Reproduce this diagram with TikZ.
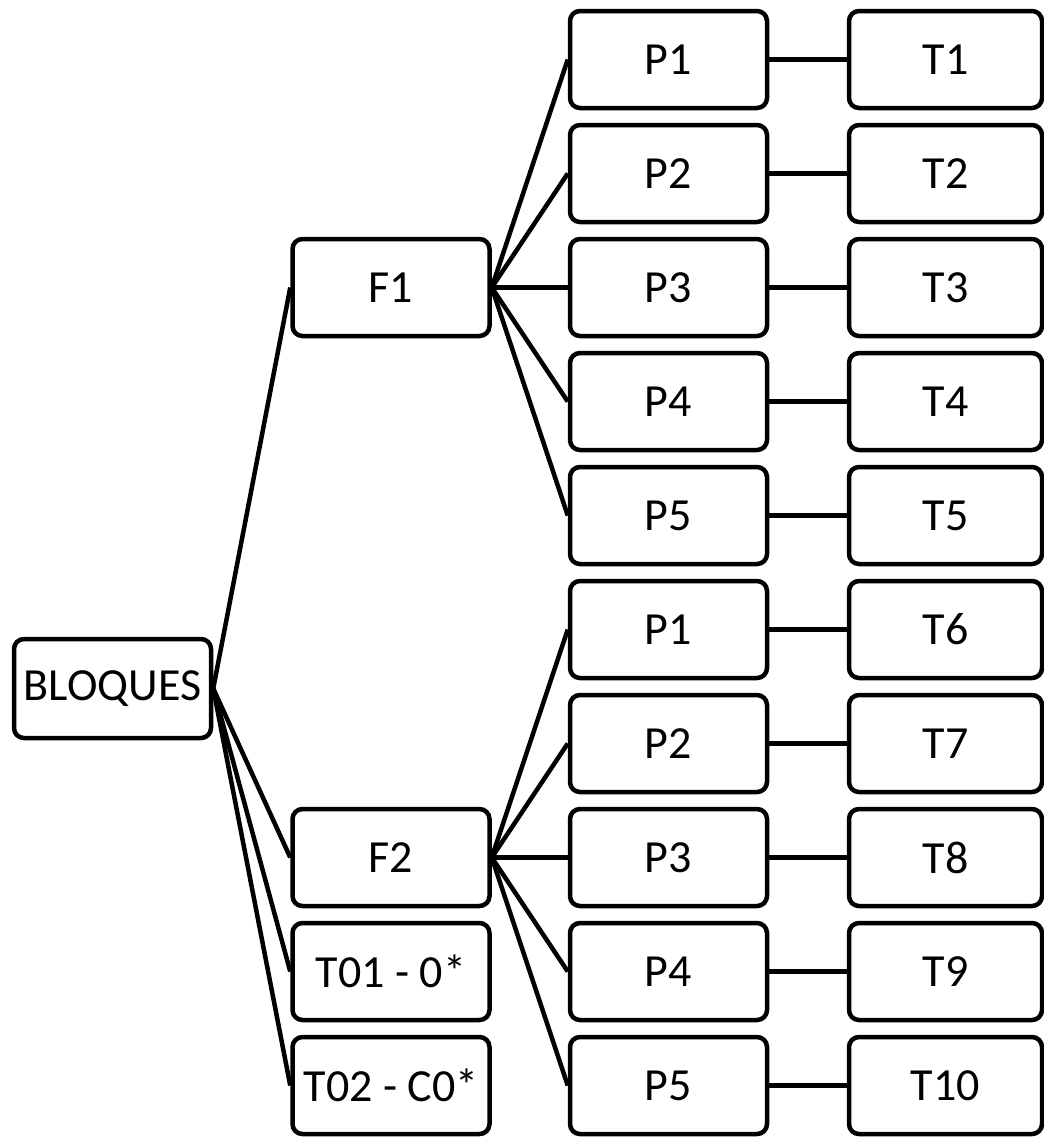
\documentclass[tikz,border=0pt]{standalone}
\usepackage{fontspec}
\setmainfont{Carlito}
\begin{document}
\begin{tikzpicture}[x=1pt,y=-1pt,
  box/.style={draw=black,line width=4.5pt,rounded corners=10pt,minimum width=197pt,minimum height=97pt,inner sep=0pt,font=\fontsize{46}{52}\selectfont},
  tbox/.style={box,minimum width=193pt},
  link/.style={line width=4.5pt}]
\useasboundingbox (0,0) rectangle (1044,1138);
\node[box,minimum height=99pt] (B) at (112.5,688.5) {BLOQUES};
\node[box] (F1) at (391,287.5) {F1};
\node[box] (F2) at (391,857.5) {F2};
\node[box] (T01) at (391,971.5) {T01 - 0*};
\node[box] (T02) at (391,1085.5) {T02 - C0*};
\foreach \i/\p in {0/1,1/2,2/3,3/4,4/5}{
  \node[box] (PA\p) at (668.5,59.5+114*\i) {P\p};
  \node[box] (PB\p) at (668.5,629.5+114*\i) {P\p};
}
\foreach \i/\t in {0/1,1/2,2/3,3/4,4/5,5/6,6/7,7/8,8/9,9/10}{
  \node[tbox] (T\t) at (945.5,59.5+114*\i) {T\t};
}
\foreach \n in {F1,F2,T01,T02}{\draw[link] (B.east) -- (\n.west);}
\foreach \p in {1,...,5}{
  \draw[link] (F1.east) -- (PA\p.west);
  \draw[link] (F2.east) -- (PB\p.west);
}
\foreach \p/\t in {1/1,2/2,3/3,4/4,5/5}{\draw[link] (PA\p.east) -- (T\t.west);}
\foreach \p/\t in {1/6,2/7,3/8,4/9,5/10}{\draw[link] (PB\p.east) -- (T\t.west);}
\end{tikzpicture}
\end{document}
